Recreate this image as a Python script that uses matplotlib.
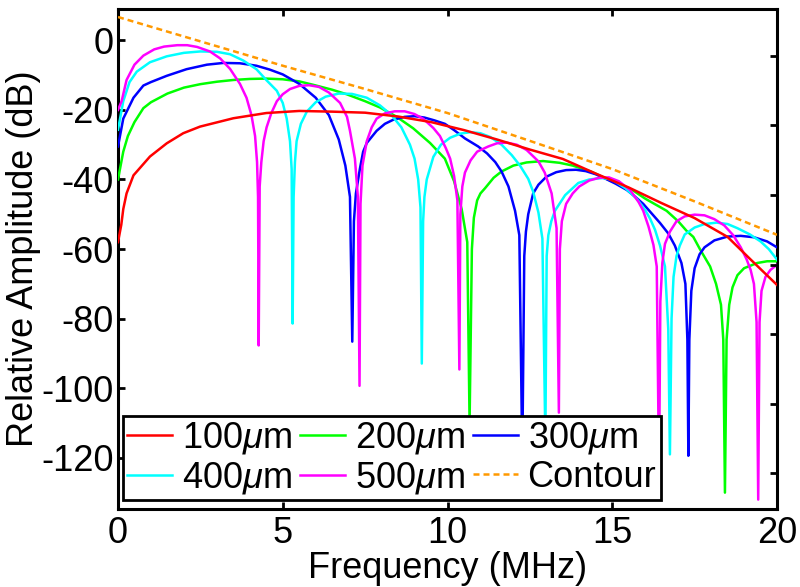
import matplotlib
matplotlib.use("Agg")
import matplotlib.pyplot as plt

plt.rcParams['font.family'] = ['Liberation Sans', 'DejaVu Sans']
plt.rcParams['mathtext.fontset'] = 'custom'
plt.rcParams['mathtext.rm'] = 'Liberation Sans'
plt.rcParams['mathtext.it'] = 'Liberation Sans:italic'
plt.rcParams['mathtext.bf'] = 'Liberation Sans:bold'
plt.rcParams['axes.unicode_minus'] = False

# ---------------- data ----------------
f_100 = [0.0, 0.1, 0.16, 0.26, 0.47, 0.97, 1.48, 1.98, 2.49, 3.5, 4.5, 5.5, 6.5, 7.5, 8.5,
         9.5, 10.5, 11.5, 12.5, 13.5, 14.5, 15.5, 16.5, 17.5, 18.5, 19.2, 20.0]
db_100 = [-58, -53, -48.5, -44.0, -38.8, -33.4, -29.6, -26.7, -24.8, -22.4, -20.9, -20.3, -20.5,
          -20.8, -21.9, -23.5, -25.8, -28.5, -31.4, -34.1, -38.3, -42.3, -46.8, -51.1, -56.5, -63, -70.3]

f_200 = [0.0, 0.16, 0.3, 0.5, 0.77, 1.0, 1.5, 2.0, 2.5, 3.0, 3.5, 4.0, 4.5, 5.0, 5.5, 5.93, 6.5,
         6.94, 7.5, 7.95, 8.46, 8.96, 9.47, 9.92, 10.2, 10.43, 10.6, 10.67,
         10.74, 10.8, 10.9, 11.0, 11.14, 11.4, 11.64, 12.0, 12.4, 12.9, 13.4, 13.8, 14.37, 14.8,
         15.3, 15.64, 16.0, 16.65, 17.0, 17.26, 17.46, 17.66, 17.97, 18.15, 18.3, 18.37, 18.42,
         18.47, 18.55, 18.65, 18.8, 19.0, 19.4, 19.7, 20.0]
db_200 = [-40, -32, -27.5, -23.5, -19.5, -17.8, -15.3, -13.6, -12.6, -11.9, -11.4, -11.1, -11.0,
          -11.2, -11.8, -12.8, -14.2, -15.5, -17.5, -19.3, -22.0, -25.3, -29.5, -34.0, -40.5,
          -48.5, -58, -110,
          -60, -51, -46, -44, -42.5, -39.5, -37.7, -36.0, -35.1, -34.7, -35.2, -36.0, -37.8, -39.7,
          -41.8, -43.2, -45.5, -49.0, -52.0, -54.8, -56.5, -60.0, -65.0, -70.0, -76, -86, -130,
          -86, -76, -71, -67.5, -65.5, -64.0, -63.5, -63.5]

f_300 = [0.0, 0.16, 0.47, 0.77, 1.0, 1.48, 2.08, 2.7, 3.2, 3.7, 4.2, 4.6, 5.0, 5.5, 6.0, 6.4,
         6.7, 6.9, 7.04, 7.11,
         7.16, 7.22, 7.34, 7.44, 7.55, 7.85, 8.1, 8.36, 8.7, 9.0, 9.3, 9.6, 9.92, 10.2, 10.53,
         10.93, 11.2, 11.45, 11.64, 11.85, 12.05, 12.18, 12.27,
         12.33, 12.38, 12.45, 12.6, 12.76, 13.0, 13.3, 13.6, 13.9, 14.2, 14.5, 14.8, 15.1, 15.44,
         15.7, 15.94, 16.2, 16.45, 16.7, 16.9, 17.1, 17.22, 17.28, 17.31,
         17.34, 17.4, 17.5, 17.65, 17.8, 18.1, 18.5, 18.9, 19.3, 19.7, 20.0]
db_300 = [-30.5, -22.5, -16.5, -13.0, -12.0, -10.2, -8.3, -7.0, -6.5, -6.6, -7.3, -8.4, -9.8,
          -12.5, -16.5, -21.5, -28.5, -36.0, -45.0, -86.6,
          -52, -44, -37, -32, -29.5, -26.0, -24.0, -22.8, -22.0, -21.8, -22.2, -23.0, -24.0, -25.8,
          -28.2, -30.5, -32.5, -35.0, -37.7, -42.0, -49.0, -56.0, -120,
          -62, -55, -50, -44, -41.5, -39.2, -37.9, -37.3, -37.2, -37.6, -38.5, -39.8, -41.2, -43.0,
          -45.0, -47.0, -49.8, -52.5, -55.5, -59.0, -64.0, -70.0, -86, -119.4,
          -86, -72, -65.5, -61.5, -59.5, -57.5, -56.4, -56.2, -56.6, -57.8, -59.5]

f_400 = [0.0, 0.16, 0.35, 0.57, 0.97, 1.48, 2.0, 2.5, 3.0, 3.4, 3.8, 4.2, 4.51, 4.82, 5.0, 5.12,
         5.22, 5.27, 5.3,
         5.33, 5.37, 5.42, 5.55, 5.73, 6.0, 6.3, 6.7, 7.1, 7.55, 7.95, 8.3, 8.6, 8.86, 9.0, 9.11,
         9.18, 9.22,
         9.26, 9.3, 9.37, 9.57, 9.8, 10.08, 10.4, 10.7, 11.0, 11.3, 11.64, 11.95, 12.2, 12.45,
         12.6, 12.76, 12.88, 12.97,
         13.01, 13.06, 13.15, 13.26, 13.57, 13.97, 14.3, 14.7, 15.0, 15.4, 15.74, 16.0, 16.15,
         16.3, 16.45, 16.6, 16.7, 16.75,
         16.8, 16.86, 16.95, 17.05, 17.2, 17.5, 17.8, 18.17, 18.5, 18.8, 19.18, 19.5, 19.75, 20.0]
db_400 = [-25.7, -17.5, -12.0, -9.0, -6.3, -4.6, -3.6, -3.2, -3.3, -4.0, -5.8, -8.3, -11.5,
          -14.5, -18.0, -22.5, -29.0, -37.0, -81.4,
          -45, -35, -29, -24, -20.5, -17.8, -16.2, -15.3, -15.4, -16.5, -18.7, -21.5, -25.0,
          -30.0, -34.0, -40.0, -48.0, -92.9,
          -52, -45, -40, -33.5, -30.0, -28.0, -26.8, -26.4, -26.7, -27.8, -30.0, -33.0, -36.0,
          -39.8, -43.5, -49.5, -57.0, -115,
          -62, -56, -52, -49.0, -44.5, -41.0, -40.0, -39.6, -40.0, -42.5, -45.5, -48.8, -51.3,
          -54.5, -59.0, -65.0, -83, -119,
          -80, -68, -62, -59, -55.8, -53.8, -52.8, -52.4, -52.8, -54.0, -55.8, -57.8, -60.0, -63.0]

f_500 = [0.0, 0.11, 0.26, 0.5, 0.77, 1.1, 1.4, 1.8, 2.1, 2.4, 2.79, 3.1, 3.4, 3.7, 3.9, 4.05,
         4.16, 4.22, 4.25, 4.27,
         4.3, 4.35, 4.42, 4.51, 4.65, 4.82, 5.0, 5.22, 5.5, 5.8, 6.1, 6.4, 6.74, 6.95, 7.04, 7.19,
         7.28, 7.33,
         7.36, 7.42, 7.55, 7.7, 7.85, 8.1, 8.4, 8.7, 9.0, 9.27, 9.57, 9.77, 9.95, 10.08, 10.2,
         10.3, 10.36,
         10.39, 10.45, 10.53, 10.7, 10.9, 11.24, 11.5, 11.8, 12.1, 12.4, 12.76, 12.95, 13.16,
         13.31, 13.38,
         13.41, 13.47, 13.6, 13.8, 14.0, 14.3, 14.6, 14.9, 15.2, 15.54, 15.8, 15.94, 16.1, 16.25,
         16.35, 16.42,
         16.46, 16.52, 16.6, 16.75, 16.95, 17.2, 17.5, 17.8, 18.1, 18.4, 18.67, 18.9, 19.08,
         19.2, 19.3, 19.38, 19.43,
         19.47, 19.53, 19.65, 19.8, 20.0]
db_500 = [-20.0, -17.5, -11.4, -7.0, -4.4, -2.6, -1.8, -1.4, -1.4, -1.9, -3.2, -5.2, -8.2, -12.5,
          -16.5, -21.5, -27.5, -35.0, -45.0, -87.7,
          -42, -35, -29, -25.0, -21.0, -17.5, -15.5, -14.0, -13.1, -12.9, -13.4, -15.0, -18.0,
          -22.0, -26.0, -34.0, -45.0, -99.3,
          -47, -36, -29, -25, -22.5, -21.0, -20.4, -20.4, -21.2, -22.6, -25.2, -27.5, -31.0,
          -34.0, -39.0, -46.0, -94.6,
          -50, -42, -38, -34.5, -32.0, -30.5, -29.6, -29.4, -30.0, -31.5, -34.8, -38.0, -44.0,
          -54.0, -107,
          -60, -52, -47, -44, -42, -40.3, -39.5, -39.4, -40.5, -43.0, -46.5, -49.0, -53.5, -58.8,
          -65.0, -125,
          -75, -64, -58.5, -55.0, -52.0, -50.6, -50.1, -50.3, -51.4, -53.2, -56.0, -59.5, -63.0,
          -66.0, -70.0, -81, -132,
          -81, -72, -68, -66, -64.5]

f_contour = [0, 2.5, 5, 7.5, 10, 12.5, 15, 17.5, 20]
db_contour = [6.7, -0.3, -7.3, -14.0, -20.9, -28.9, -37.0, -46.3, -55.9]

labels = [r'100$\mathit{\mu}$m', r'200$\mathit{\mu}$m', r'300$\mathit{\mu}$m',
          r'400$\mathit{\mu}$m', r'500$\mathit{\mu}$m', 'Contour']
colors = ['#FF0000', '#00FF00', '#0000FF', '#00FFFF', '#FF00FF', '#FF9900']
x_ticks = [0, 5, 10, 15, 20]
y_ticks = [0, -20, -40, -60, -80, -100, -120]

# ---------------- figure ----------------
fig = plt.figure(figsize=(8, 5.87), dpi=100)
ax = fig.add_axes([118/800, 78/587, 659/800, 500/587])

series = [(f_100, db_100), (f_200, db_200), (f_300, db_300), (f_400, db_400), (f_500, db_500)]
zs = [7, 3, 4, 5, 6]
handles = []
for (fx, dy), c, lab, z in zip(series, colors[:5], labels[:5], zs):
    h, = ax.plot(fx, dy, color=c, lw=1.8, label=lab, zorder=z)
    handles.append(h)
hc, = ax.plot(f_contour, db_contour, color=colors[5], lw=1.8, ls=(0, (2.4, 1.6)),
              label=labels[5], zorder=8)
handles.append(hc)

FS = 26
ax.set_xlim(0, 20)
ax.set_ylim(-134.7, 9.0)
ax.set_xticks(x_ticks)
ax.set_yticks(y_ticks)
ax.tick_params(direction='in', length=5, width=2.0, labelsize=FS, top=True)
ax.tick_params(axis='x', pad=5)
ax.tick_params(axis='y', pad=3)
for s in ax.spines.values():
    s.set_linewidth(2.2)

ax.set_xlabel('Frequency (MHz)', fontsize=FS, labelpad=0)
ax.set_ylabel('Relative Amplitude (dB)', fontsize=FS, labelpad=0)

# right-hand tick marks (offset as in the reference)
ax2 = ax.twinx()
ax2.set_ylim(-134.7 + 4.46, 9.0 + 4.46)
ax2.set_yticks(y_ticks)
ax2.tick_params(direction='in', length=5, width=2.0, labelright=False)
for s in ax2.spines.values():
    s.set_visible(False)

order = [0, 3, 1, 4, 2, 5]
leg = ax2.legend([handles[i] for i in order], [labels[i] for i in order], ncol=3,
                 loc='lower left', bbox_to_anchor=(0.0076, 0.018), borderaxespad=0,
                 fontsize=FS, frameon=True, fancybox=False, framealpha=1,
                 edgecolor='black', handlelength=1.25, handletextpad=0.25,
                 columnspacing=0.25, labelspacing=0.1, borderpad=0.12)
leg.get_frame().set_linewidth(2.0)
leg.set_zorder(20)

fig.savefig('out.png', dpi=100)
